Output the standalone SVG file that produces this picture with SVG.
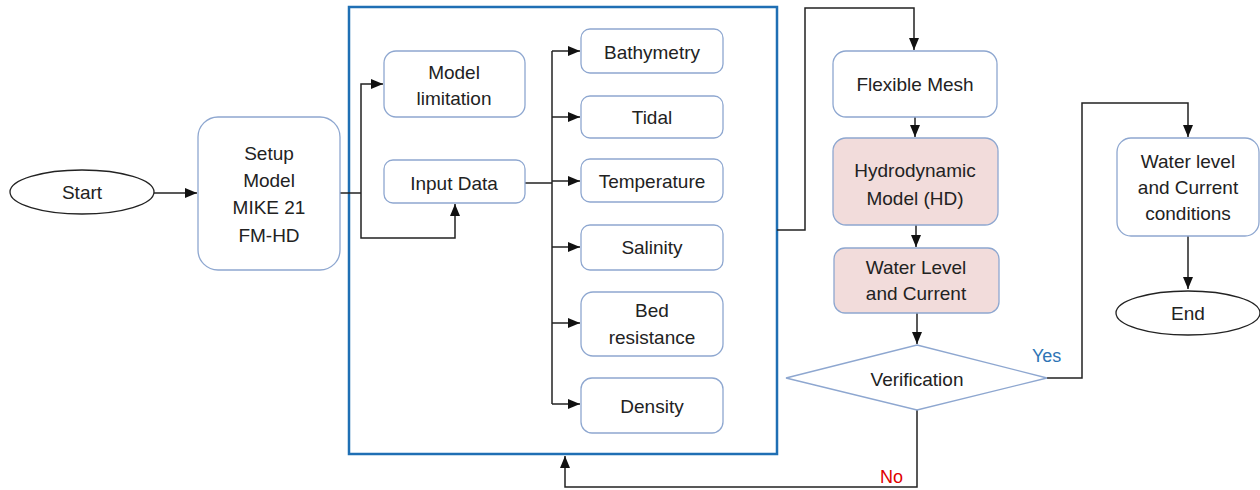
<svg xmlns="http://www.w3.org/2000/svg" width="1260" height="490" viewBox="0 0 1260 490">
<defs>
<style>
.node{fill:#ffffff;stroke:#8ea7d0;stroke-width:1.3}
.pink{fill:#f2dcdb;stroke:#8ea7d0;stroke-width:1.3}
.term{fill:#ffffff;stroke:#222;stroke-width:1.3}
.frame{fill:none;stroke:#1f6fb4;stroke-width:2.5}
.t{font-family:"Liberation Sans",Arial,sans-serif;font-size:19px;fill:#222;text-anchor:middle;dominant-baseline:central}
.conn{fill:none;stroke:#222;stroke-width:1.5}
.yes{font-family:"Liberation Sans",Arial,sans-serif;font-size:18px;fill:#2e74b5;dominant-baseline:central}
.no{font-family:"Liberation Sans",Arial,sans-serif;font-size:18px;fill:#e00000;dominant-baseline:central}
</style>
<marker id="arr" markerUnits="userSpaceOnUse" markerWidth="12" markerHeight="10" viewBox="0 0 12 10" refX="12" refY="5" orient="auto">
<path d="M0 0 L12 5 L0 10 Z" fill="#111"/>
</marker>
</defs>
<rect width="1260" height="490" fill="#ffffff"/>

<g id="frame">
<rect class="frame" x="349" y="7" width="428" height="447"/>
</g>

<g id="connectors">
<path class="conn" d="M154 193 H197" marker-end="url(#arr)"/>
<path class="conn" d="M340 193 H361"/>
<path class="conn" d="M361 193 V84 H383" marker-end="url(#arr)"/>
<path class="conn" d="M361 193 V238 H455 V204" marker-end="url(#arr)"/>
<path class="conn" d="M525 183 H552"/>
<path class="conn" d="M552 51 V404"/>
<path class="conn" d="M552 51 H580" marker-end="url(#arr)"/>
<path class="conn" d="M552 117 H580" marker-end="url(#arr)"/>
<path class="conn" d="M552 181 H580" marker-end="url(#arr)"/>
<path class="conn" d="M552 247 H580" marker-end="url(#arr)"/>
<path class="conn" d="M552 323 H580" marker-end="url(#arr)"/>
<path class="conn" d="M552 404 H580" marker-end="url(#arr)"/>
<path class="conn" d="M777 230 H805 V8 H914 V50" marker-end="url(#arr)"/>
<path class="conn" d="M915 117 V137" marker-end="url(#arr)"/>
<path class="conn" d="M916 225 V247" marker-end="url(#arr)"/>
<path class="conn" d="M917 313 V344" marker-end="url(#arr)"/>
<path class="conn" d="M1047 378 H1082 V103 H1188 V137" marker-end="url(#arr)"/>
<path class="conn" d="M1188 236 V289" marker-end="url(#arr)"/>
<path class="conn" d="M917 410 V487 H565 V456" marker-end="url(#arr)"/>
<text class="yes" x="1032" y="356">Yes</text>
<text class="no" x="880" y="477">No</text>
</g>

<g id="start">
<ellipse class="term" cx="82" cy="192" rx="72" ry="22"/>
<text class="t" x="82" y="192">Start</text>
</g>

<g id="setup">
<rect class="node" x="198" y="117" width="142" height="153" rx="20"/>
<text class="t" x="269" y="153">Setup</text>
<text class="t" x="269" y="180">Model</text>
<text class="t" x="269" y="207">MIKE 21</text>
<text class="t" x="269" y="235">FM-HD</text>
</g>

<g id="model-limitation">
<rect class="node" x="384" y="51" width="141" height="66" rx="12"/>
<text class="t" x="454" y="72">Model</text>
<text class="t" x="454" y="98">limitation</text>
</g>

<g id="input-data">
<rect class="node" x="384" y="160" width="141" height="43" rx="9"/>
<text class="t" x="454" y="183">Input Data</text>
</g>

<g id="bathymetry">
<rect class="node" x="581" y="29" width="142" height="44" rx="9"/>
<text class="t" x="652" y="52">Bathymetry</text>
</g>

<g id="tidal">
<rect class="node" x="581" y="96" width="142" height="42" rx="9"/>
<text class="t" x="652" y="117">Tidal</text>
</g>

<g id="temperature">
<rect class="node" x="581" y="159" width="142" height="43" rx="9"/>
<text class="t" x="652" y="181">Temperature</text>
</g>

<g id="salinity">
<rect class="node" x="581" y="225" width="142" height="45" rx="9"/>
<text class="t" x="652" y="247">Salinity</text>
</g>

<g id="bed-resistance">
<rect class="node" x="581" y="292" width="142" height="64" rx="12"/>
<text class="t" x="652" y="310">Bed</text>
<text class="t" x="652" y="337">resistance</text>
</g>

<g id="density">
<rect class="node" x="581" y="378" width="142" height="55" rx="11"/>
<text class="t" x="652" y="406">Density</text>
</g>

<g id="flexible-mesh">
<rect class="node" x="833" y="51" width="164" height="66" rx="13"/>
<text class="t" x="915" y="84">Flexible Mesh</text>
</g>

<g id="hydrodynamic">
<rect class="pink" x="833" y="138" width="165" height="87" rx="13"/>
<text class="t" x="915" y="170">Hydrodynamic</text>
<text class="t" x="915" y="198">Model (HD)</text>
</g>

<g id="water-level-current">
<rect class="pink" x="834" y="248" width="165" height="65" rx="11"/>
<text class="t" x="916" y="267">Water Level</text>
<text class="t" x="916" y="293">and Current</text>
</g>

<g id="verification">
<polygon class="node" points="917,345 1047,378 917,410 786,378"/>
<text class="t" x="917" y="379">Verification</text>
</g>

<g id="water-level-conditions">
<rect class="node" x="1117" y="138" width="142" height="98" rx="14"/>
<text class="t" x="1188" y="161">Water level</text>
<text class="t" x="1188" y="187">and Current</text>
<text class="t" x="1188" y="213">conditions</text>
</g>

<g id="end">
<ellipse class="term" cx="1188" cy="313" rx="72" ry="22"/>
<text class="t" x="1188" y="313">End</text>
</g>
</svg>
